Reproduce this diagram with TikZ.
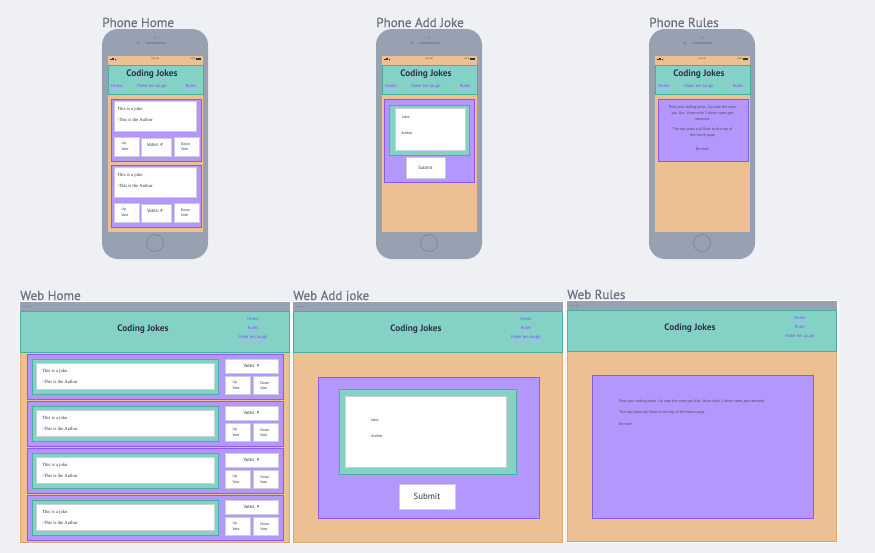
\documentclass[tikz,border=0pt]{standalone}
\usepackage{fontspec}
\setmainfont{PT Sans}
\newfontfamily\jokeserif{Liberation Serif}
\newfontfamily\captionfont[FakeBold=0.6]{PT Sans}

\definecolor{pagebg}{HTML}{EEF0F4}
\definecolor{phonegray}{HTML}{98A1B1}
\definecolor{phonedark}{HTML}{828B9C}
\definecolor{bargray}{HTML}{99A2B2}
\definecolor{bardots}{HTML}{848D9E}
\definecolor{orangefill}{HTML}{ECC092}
\definecolor{orangeline}{HTML}{E2A46A}
\definecolor{tealfill}{HTML}{84D2C6}
\definecolor{tealline}{HTML}{45B0A1}
\definecolor{purplefill}{HTML}{B497FC}
\definecolor{purpleline}{HTML}{8F58EC}
\definecolor{boxline}{HTML}{CBCFDC}
\definecolor{darktext}{HTML}{2E3542}
\definecolor{labelgray}{HTML}{6A7283}
\definecolor{linkc}{HTML}{7B50F2}
\definecolor{linkline}{HTML}{A9B8F0}

\tikzset{
  framelabel/.style={font=\captionfont\fontsize{9.8}{12}\selectfont, text=labelgray, inner sep=0pt, anchor=base west},
  headtitle/.style={font=\fontsize{7}{8}\selectfont\bfseries, text=darktext, inner sep=0pt},
  navlink/.style={font=\fontsize{3.3}{4}\selectfont, text=linkc, inner xsep=0pt, inner ysep=0.4pt,
    append after command={(\tikzlastnode.south west) edge[draw=linkline, line width=0.35pt] (\tikzlastnode.south east)}},
  statustxt/.style={font=\fontsize{1.6}{2}\selectfont, text=darktext, inner sep=0pt},
  jokecard/.style={fill=purplefill, draw=purpleline, line width=0.6pt},
  tealbox/.style={fill=tealfill, draw=tealline, line width=0.6pt},
  whitebox/.style={fill=white, draw=boxline, line width=0.6pt},
  orangebody/.style={fill=orangefill, draw=orangeline, line width=0.5pt},
  jokefont/.style={font=\jokeserif\fontsize{3.5}{4}\selectfont, text=darktext, inner sep=0pt, anchor=west},
  smalltxt/.style={font=\fontsize{2.8}{4.2}\selectfont, text=darktext, inner sep=0pt, align=left, anchor=west},
  votetxt/.style={font=\fontsize{3.5}{4}\selectfont, text=darktext, inner sep=0pt},
  formtxt/.style={font=\fontsize{2.9}{4}\selectfont, text=darktext, inner sep=0pt, anchor=west},
  rulestxt/.style={font=\fontsize{2.9}{4.5}\selectfont, text=darktext!90, inner sep=0pt},
}

% phone outline with status bar, header and navigation; #1 prefix, #2 left edge, #3 caption
\newcommand{\phoneframe}[3]{%
\begin{scope}[shift={(#2,0)}]
  \node[framelabel] (#1-label) at (0,27) {#3};
  \fill[phonegray, rounded corners=12pt] (0,29) rectangle (106,259);
  \fill[phonedark] (36,43) circle (1.7);
  \draw[phonedark, line width=1.3pt, line cap=round] (44,43) -- (63,43);
  \fill[phonedark] (53,37.5) circle (1.1);
  \draw[phonedark, line width=0.7pt] (53,243) circle (8.5);
  \fill[orangefill] (6,56) rectangle (101,232);
  \foreach \i in {0,1,2,3}
    \fill[darktext] ({7.5+\i*1.1},60) rectangle ({8.2+\i*1.1},{59.4-\i*0.5});
  \fill[darktext] (13.5,59.6) circle (0.7);
  \node[statustxt] (#1-time) at (53,58.5) {9:41 AM};
  \node[statustxt, anchor=east] (#1-pct) at (93.5,58.5) {100\%};
  \fill[darktext] (94,57.6) rectangle (99,59.6);
  \draw[tealbox] (6,65) rectangle (101,94);
  \node[headtitle] (#1-title) at (50,74) {Coding Jokes};
  \node[navlink] (#1-home) at (15,86) {Home};
  \node[navlink] (#1-laugh) at (50,86) {Make 'em laugh};
  \node[navlink] (#1-rules) at (89,86) {Rules};
\end{scope}}

% browser window with header and navigation; #1 prefix, #2 #3 top left, #4 caption
\newcommand{\webframe}[4]{%
\begin{scope}[shift={(#2,#3)}]
  \node[framelabel] (#1-label) at (0,-2) {#4};
  \fill[white] (-1.5,-1.5) rectangle (271.5,242);
  \fill[bargray] (0,0) rectangle (270,9);
  \foreach \i in {0,1,2}
    \fill[bardots] ({4+\i*3},4.5) circle (1);
  \draw[orangebody] (0,50) rectangle (269,240);
  \draw[tealbox] (0,9) rectangle (269,50);
  \node[headtitle] (#1-title) at (123,27) {Coding Jokes};
  \node[navlink] (#1-home) at (233,17) {Home};
  \node[navlink] (#1-rules) at (233,26) {Rules};
  \node[navlink] (#1-laugh) at (233,35) {Make 'em laugh};
\end{scope}}

\begin{document}
\begin{tikzpicture}[x=0.75pt, y=-0.75pt]
\fill[pagebg] (0,0) rectangle (875,553);
\useasboundingbox (0,0) rectangle (875,553);

% ---------- phone: home ----------
\phoneframe{ph}{102}{Phone Home}
\begin{scope}[shift={(102,0)}]
  \foreach \k/\t in {1/99, 2/165} {
    \begin{scope}[shift={(0,\t)}]
      \draw[jokecard] (9,0) rectangle (99,62);
      \draw[whitebox] (12,2) rectangle (94,32);
      \node[jokefont] (ph-c\k-joke) at (15,10) {This is a joke.};
      \node[jokefont] (ph-c\k-author) at (15,21) {-This is the Author};
      \draw[whitebox] (12,38) rectangle (37,57);
      \draw[whitebox] (39,39) rectangle (69,57);
      \draw[whitebox] (72,38) rectangle (97,57);
      \node[smalltxt] (ph-c\k-up) at (19.3,47.5) {Up\\Vote};
      \node[votetxt] (ph-c\k-votes) at (53,46) {Votes: \#};
      \node[smalltxt] (ph-c\k-down) at (78.7,47.5) {Down\\Vote};
    \end{scope}
  }
\end{scope}

% ---------- phone: add joke ----------
\phoneframe{pa}{376}{Phone Add Joke}
\begin{scope}[shift={(376,0)}]
  \draw[jokecard] (8,99) rectangle (98,182);
  \draw[tealbox] (13,105) rectangle (93,155);
  \draw[whitebox] (19,108) rectangle (89,150);
  \node[formtxt] (pa-joke) at (26,117) {Joke:};
  \node[formtxt] (pa-author) at (25,133) {Author};
  \draw[whitebox] (30,157) rectangle (69,178);
  \node[votetxt] (pa-submit) at (49.5,167.5) {Submit};
\end{scope}

% ---------- phone: rules ----------
\phoneframe{pr}{649}{Phone Rules}
\begin{scope}[shift={(649,0)}]
  \draw[jokecard] (9,99) rectangle (99,161);
  \node[rulestxt, align=center] (pr-post) at (53.5,113)
    {Post your coding jokes. Up vote the ones\\you like. Votes with 5 down votes get\\removed.};
  \node[rulestxt, align=center] (pr-float) at (53.5,133)
    {The top jokes will float to the top of\\the home page};
  \node[rulestxt] (pr-nice) at (53.5,149) {Be nice!};
\end{scope}

% ---------- web: home ----------
\webframe{wh}{20}{302}{Web Home}
\begin{scope}[shift={(20,302)}]
  \foreach \k/\t in {1/52, 2/99, 3/146, 4/193} {
    \begin{scope}[shift={(0,\t)}]
      \draw[jokecard] (7,0) rectangle (263,45);
      \draw[tealbox] (12,5) rectangle (198,40);
      \draw[whitebox] (16,9) rectangle (194,35);
      \node[jokefont] (wh-c\k-joke) at (22,17) {This is a joke.};
      \node[jokefont] (wh-c\k-author) at (22,28) {-This is the Author};
      \draw[whitebox] (205,5) rectangle (258,19);
      \node[votetxt] (wh-c\k-votes) at (231.5,12) {Votes: \#};
      \draw[whitebox] (205,22) rectangle (230,40);
      \draw[whitebox] (233,22) rectangle (258,40);
      \node[smalltxt] (wh-c\k-up) at (212.3,31.5) {Up\\Vote};
      \node[smalltxt] (wh-c\k-down) at (240,31.5) {Down\\Vote};
    \end{scope}
  }
\end{scope}

% ---------- web: add joke ----------
\webframe{wa}{293}{302}{Web Add joke}
\begin{scope}[shift={(293,302)}]
  \draw[jokecard] (25,75) rectangle (246,216);
  \draw[tealbox] (46,87) rectangle (223,172);
  \draw[whitebox] (52,94) rectangle (213,165);
  \node[formtxt] (wa-joke) at (78,118) {Joke:};
  \node[formtxt] (wa-author) at (78,134) {Author};
  \draw[whitebox] (106,182) rectangle (162,207);
  \node[font=\fontsize{6.6}{8}\selectfont, text=darktext, inner sep=0pt] (wa-submit) at (134,194.5) {Submit};
\end{scope}

% ---------- web: rules ----------
\webframe{wr}{567}{301}{Web Rules}
\begin{scope}[shift={(567,301)}]
  \draw[jokecard] (25,74) rectangle (246,217);
  \node[rulestxt, anchor=west] (wr-post) at (52,101)
    {Post your coding jokes. Up vote the ones you like. Votes with 5 down votes get removed.};
  \node[rulestxt, anchor=west] (wr-float) at (52,112) {The top jokes will float to the top of the home page};
  \node[rulestxt, anchor=west] (wr-nice) at (52,123) {Be nice!};
\end{scope}

\end{tikzpicture}
\end{document}
